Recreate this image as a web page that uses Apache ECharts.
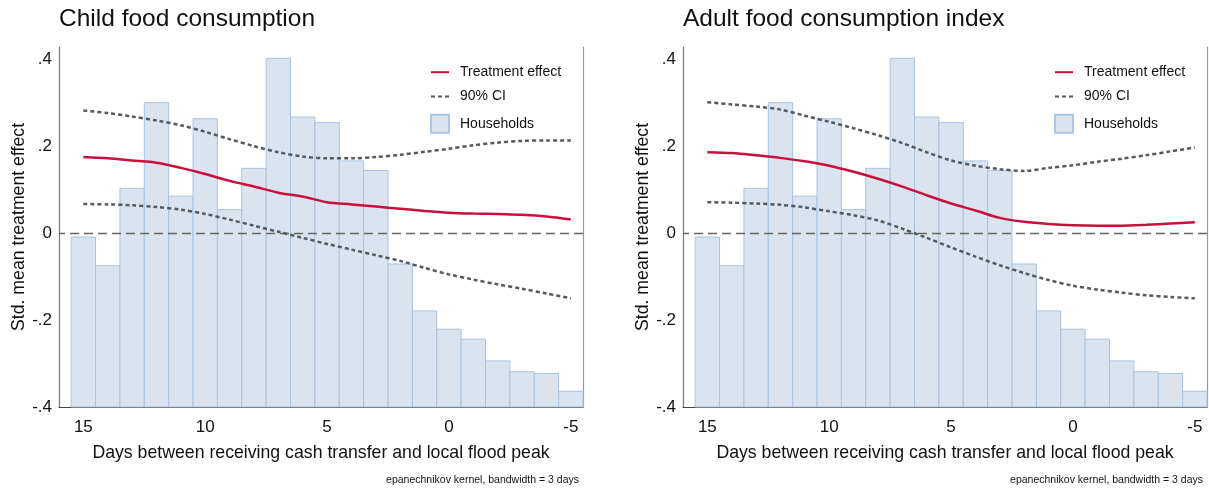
<!DOCTYPE html>
<html>
<head>
<meta charset="utf-8">
<script src="https://cdn.jsdelivr.net/npm/echarts@6/dist/echarts.min.js"></script>
<style>
html,body{margin:0;padding:0;background:#fff;}
#chart{width:1209px;height:491px;}
</style>
</head>
<body>
<div id="chart"></div>
<script>
// ---- data ----
const days = [15,14,13,12,11,10,9,8,7,6,5,4,3,2,1,0,-1,-2,-3,-4,-5];
// histogram bar tops (drawn from -.4 upward), in y-axis units
const households = [-0.009,-0.075,0.103,0.300,0.085,0.263,0.054,0.149,0.402,0.267,0.254,0.166,0.144,-0.071,-0.179,-0.221,-0.244,-0.294,-0.319,-0.323,-0.364];
// Child food consumption
const childEffect = [0.175,0.172,0.167,0.162,0.150,0.136,0.120,0.107,0.093,0.084,0.071,0.066,0.061,0.056,0.051,0.047,0.045,0.044,0.042,0.038,0.031];
const childUpper  = [0.282,0.276,0.268,0.259,0.248,0.233,0.216,0.200,0.186,0.176,0.172,0.172,0.175,0.180,0.187,0.194,0.202,0.208,0.212,0.213,0.213];
const childLower  = [0.067,0.066,0.064,0.060,0.054,0.044,0.031,0.017,0.003,-0.011,-0.025,-0.038,-0.051,-0.064,-0.080,-0.095,-0.107,-0.118,-0.128,-0.139,-0.150];
// Adult food consumption index
const adultEffect = [0.186,0.184,0.179,0.173,0.165,0.155,0.141,0.125,0.107,0.087,0.068,0.052,0.035,0.026,0.021,0.018,0.017,0.017,0.019,0.022,0.025];
const adultUpper  = [0.301,0.296,0.291,0.284,0.270,0.256,0.241,0.225,0.207,0.186,0.167,0.155,0.147,0.143,0.150,0.156,0.164,0.171,0.179,0.188,0.197];
const adultLower  = [0.071,0.070,0.068,0.065,0.059,0.050,0.041,0.029,0.010,-0.011,-0.033,-0.054,-0.074,-0.092,-0.108,-0.121,-0.130,-0.137,-0.143,-0.147,-0.150];
// axes / labels
const xTicks = [15,10,5,0,-5];
const yTicks = [-0.4,-0.2,0,0.2,0.4];
const titles = ['Child food consumption','Adult food consumption index'];
const xName = 'Days between receiving cash transfer and local flood peak';
const yName = 'Std. mean treatment effect';
const note = 'epanechnikov kernel, bandwidth = 3 days';

const FONT = '"Liberation Sans", Arial, Helvetica, sans-serif';
const X_MIN = -5.5, X_MAX = 16, Y_MIN = -0.4, Y_MAX = 0.428;
const BIN = 1;

const zip = (xs, ys) => xs.map((x, i) => [x, ys[i]]);
const yFmt = v => { if (Math.abs(v) < 1e-9) return '0'; return (v < 0 ? '-' : '') + '.' + Math.round(Math.abs(v) * 10); };

const panels = [
  {effect: childEffect, upper: childUpper, lower: childLower},
  {effect: adultEffect, upper: adultUpper, lower: adultLower}
];
const gridLeft = [59, 683];

const grids = [], xAxes = [], yAxes = [], series = [];
panels.forEach((p, i) => {
  grids.push({left: gridLeft[i], top: 47, width: 524, height: 360, containLabel: false});
  xAxes.push({
    gridIndex: i, type: 'value', inverse: true, min: X_MIN, max: X_MAX,
    axisLine: {show: true, onZero: false, lineStyle: {color: '#444', width: 1.2}},
    axisTick: {show: false}, splitLine: {show: false},
    axisLabel: {customValues: xTicks, margin: 12, color: '#111', fontSize: 17, fontFamily: FONT},
    name: xName, nameLocation: 'middle', nameGap: 37,
    nameTextStyle: {color: '#111', fontSize: 17.7, fontFamily: FONT}
  });
  yAxes.push({
    gridIndex: i, type: 'value', min: Y_MIN, max: Y_MAX, position: 'left',
    axisLine: {show: true, onZero: false, lineStyle: {color: '#777', width: 1.2}},
    axisTick: {show: false}, splitLine: {show: false},
    axisLabel: {customValues: yTicks, formatter: yFmt, margin: 7, padding: [4, 0, 0, 0], color: '#111', fontSize: 17, fontFamily: FONT},
    name: yName, nameLocation: 'middle', nameGap: 30,
    nameTextStyle: {color: '#111', fontSize: 17.7, fontFamily: FONT}
  });
  yAxes.push({
    gridIndex: i, type: 'value', min: Y_MIN, max: Y_MAX, position: 'right',
    axisLine: {show: true, onZero: false, lineStyle: {color: '#999', width: 1.2}},
    axisTick: {show: false}, splitLine: {show: false}, axisLabel: {show: false}
  });
  const yi = i * 2;
  series.push({
    name: 'Households', type: 'custom', xAxisIndex: i, yAxisIndex: yi, z: 1,
    itemStyle: {color: '#dbe4ee', borderColor: '#a9c3e0', borderWidth: 1},
    encode: {x: 0, y: 1},
    data: zip(days, households),
    renderItem: (params, api) => {
      const x = api.value(0), h = api.value(1);
      const a = api.coord([x + BIN / 2, h]);
      const b = api.coord([x - BIN / 2, Y_MIN]);
      return {
        type: 'rect',
        shape: {x: Math.min(a[0], b[0]), y: Math.min(a[1], b[1]), width: Math.abs(b[0] - a[0]), height: Math.abs(b[1] - a[1])},
        style: {fill: '#dbe4ee', stroke: '#a9c3e0', lineWidth: 1}
      };
    },
    markLine: {
      silent: true, symbol: 'none', label: {show: false}, z: 3,
      lineStyle: {color: '#666', type: [9, 5], width: 1.3},
      data: [{yAxis: 0}]
    }
  });
  series.push({
    name: '90% CI', type: 'line', xAxisIndex: i, yAxisIndex: yi, z: 4,
    smooth: 0.3, symbol: 'none', data: zip(days, p.upper),
    lineStyle: {color: '#555a60', width: 2.5, type: [4, 3]}, itemStyle: {color: '#555a60'}
  });
  series.push({
    name: '90% CI', type: 'line', xAxisIndex: i, yAxisIndex: yi, z: 4,
    smooth: 0.3, symbol: 'none', data: zip(days, p.lower),
    lineStyle: {color: '#555a60', width: 2.5, type: [4, 3]}, itemStyle: {color: '#555a60'}
  });
  series.push({
    name: 'Treatment effect', type: 'line', xAxisIndex: i, yAxisIndex: yi, z: 5,
    smooth: 0.3, symbol: 'none', data: zip(days, p.effect),
    lineStyle: {color: '#c8103d', width: 2.5}, itemStyle: {color: '#c8103d'}
  });
});

const hideSym = {opacity: 0, borderWidth: 0};
const legendBase = {
  orient: 'vertical', top: 65, itemWidth: 18, itemHeight: 18, itemGap: 10, padding: 0,
  selectedMode: false,
  textStyle: {color: '#111', fontSize: 14, fontFamily: FONT, padding: [0, 0, 0, 6]},
  data: [
    {name: 'Treatment effect', itemStyle: hideSym},
    {name: '90% CI', itemStyle: hideSym},
    {name: 'Households', icon: 'rect'}
  ]
};

const titleStyle = {color: '#111', fontSize: 24.5, fontWeight: 'normal', fontFamily: FONT};
const noteStyle = {color: '#111', fontSize: 10.5, fontWeight: 'normal', fontFamily: FONT};

const option = {
  animation: false,
  backgroundColor: '#fff',
  title: [
    {text: titles[0], left: 59, top: 7, padding: 0, textStyle: titleStyle},
    {text: titles[1], left: 683, top: 7, padding: 0, textStyle: titleStyle},
    {text: note, right: 630, top: 475, padding: 0, textStyle: noteStyle},
    {text: note, right: 6, top: 475, padding: 0, textStyle: noteStyle}
  ],
  legend: [
    Object.assign({}, legendBase, {left: 430}),
    Object.assign({}, legendBase, {left: 1054})
  ],
  grid: grids, xAxis: xAxes, yAxis: yAxes, series: series
};

const chart = echarts.init(document.getElementById('chart'), null, {renderer: 'canvas'});
chart.setOption(option);
</script>
</body>
</html>
